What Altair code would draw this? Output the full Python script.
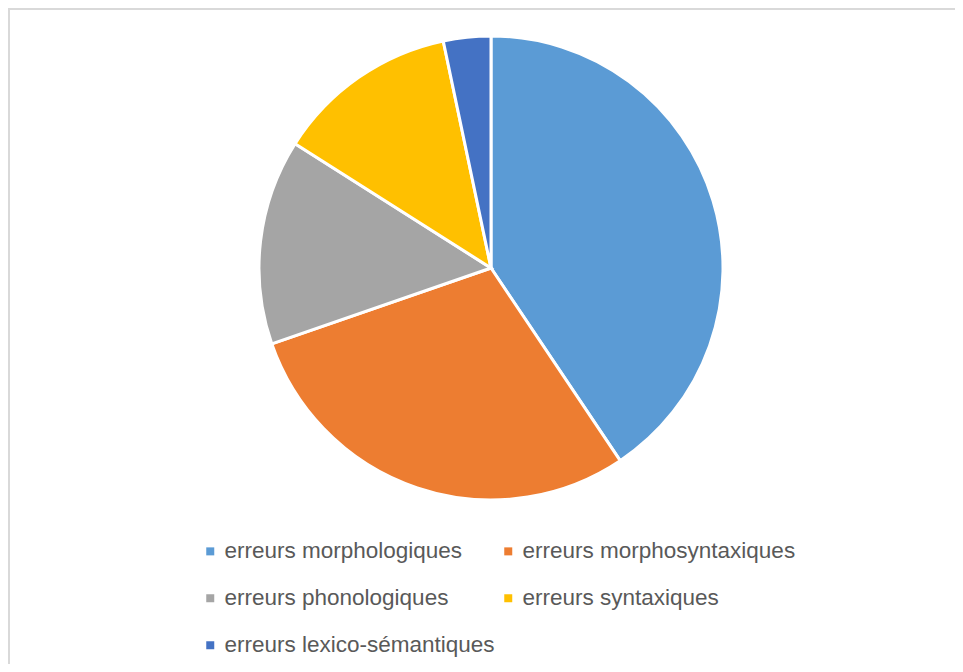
import altair as alt
import pandas as pd

categories = [
    "erreurs morphologiques",
    "erreurs morphosyntaxiques",
    "erreurs phonologiques",
    "erreurs syntaxiques",
    "erreurs lexico-sémantiques",
]
values = [40.6, 29.1, 14.3, 12.7, 3.3]
colors = ["#5B9BD5", "#ED7D31", "#A5A5A5", "#FFC000", "#4472C4"]

df = pd.DataFrame({"categorie": categories, "valeur": values, "ordre": list(range(len(categories)))})

W, H = 947, 656

pie = alt.Chart(df).mark_arc(stroke="white", strokeWidth=3, radius=232).encode(
    theta=alt.Theta("valeur:Q", stack=True),
    order=alt.Order("ordre:Q"),
    color=alt.Color(
        "categorie:N",
        scale=alt.Scale(domain=categories, range=colors),
        sort=categories,
        legend=alt.Legend(
            title=None,
            orient="none",
            direction="horizontal",
            legendX=191,
            legendY=532,
            columns=2,
            symbolType="square",
            symbolSize=64,
            symbolStrokeWidth=0,
            labelFont="Liberation Sans",
            labelFontSize=22.5,
            labelColor="#595959",
            labelOffset=3,
            rowPadding=24,
            columnPadding=2,
            padding=0,
            labelLimit=400,
        ),
    ),
    x=alt.value(483),
    y=alt.value(260),
)

border_data = alt.Data(values=[{"a": 1}])
top_rule = alt.Chart(border_data).mark_rule(color="#d9d9d9", strokeWidth=2).encode(
    x=alt.value(0), x2=alt.value(W), y=alt.value(1)
)
left_rule = alt.Chart(border_data).mark_rule(color="#d9d9d9", strokeWidth=2).encode(
    x=alt.value(1), y=alt.value(0), y2=alt.value(H)
)

chart = alt.layer(top_rule, left_rule, pie).properties(
    width=W,
    height=H,
    padding=0,
    autosize=alt.AutoSizeParams(type="none"),
    background="white",
).configure_view(stroke=None)

chart.save("out.html", embed_options={"renderer": "svg", "actions": False})
